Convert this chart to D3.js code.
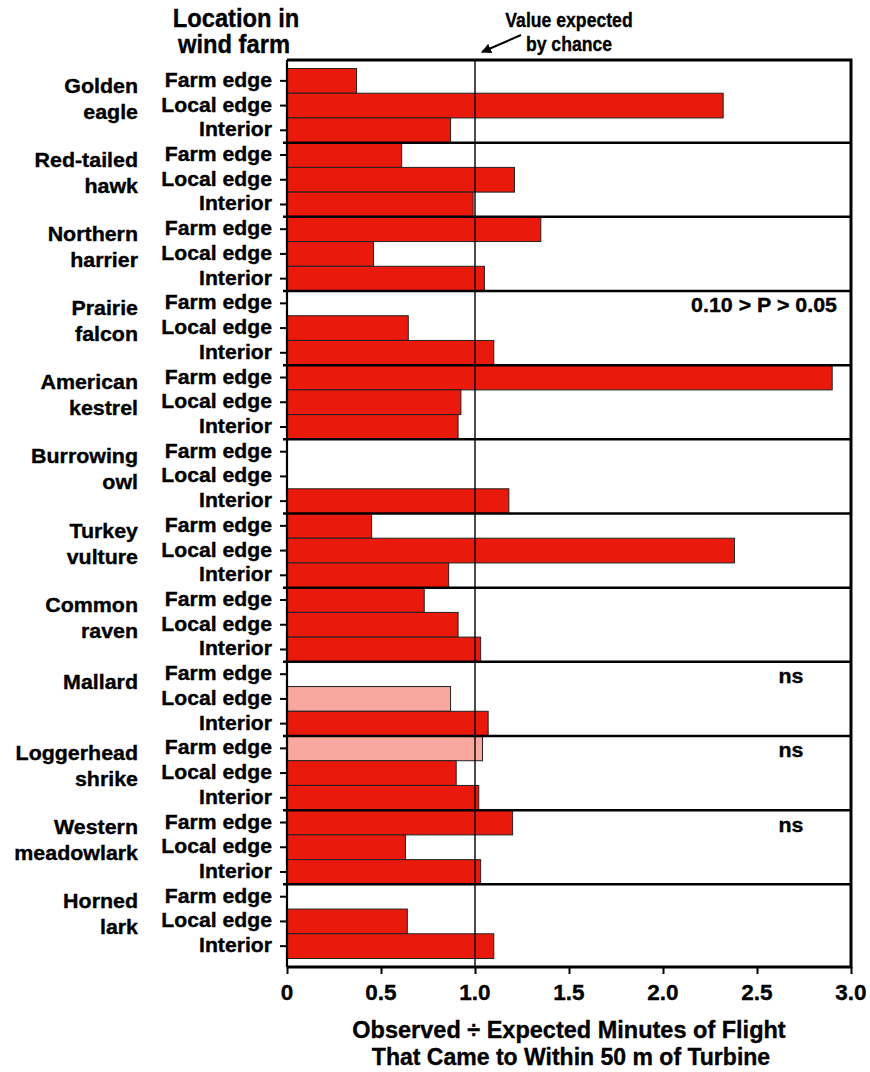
<!DOCTYPE html>
<html>
<head>
<meta charset="utf-8">
<script src="https://cdn.jsdelivr.net/npm/d3@7"></script>
<style>
  html, body { margin: 0; padding: 0; background: #fff; }
  svg { display: block; }
  text { font-family: "Liberation Sans", Arial, sans-serif; font-weight: bold; fill: #000; stroke: #000; stroke-width: 0.35px; }
</style>
</head>
<body>
<svg id="chart" width="870" height="1072"></svg>
<script>
// ---------------- data ----------------
const species = [
  "Golden eagle", "Red-tailed hawk", "Northern harrier", "Prairie falcon",
  "American kestrel", "Burrowing owl", "Turkey vulture", "Common raven",
  "Mallard", "Loggerhead shrike", "Western meadowlark", "Horned lark"
];
const speciesLines = [
  ["Golden", "eagle"], ["Red-tailed", "hawk"], ["Northern", "harrier"], ["Prairie", "falcon"],
  ["American", "kestrel"], ["Burrowing", "owl"], ["Turkey", "vulture"], ["Common", "raven"],
  ["Mallard"], ["Loggerhead", "shrike"], ["Western", "meadowlark"], ["Horned", "lark"]
];
const locations = ["Farm edge", "Local edge", "Interior"];
const farmEdge  = [0.37, 0.61, 1.35, null, 2.90, null, 0.45, 0.73, null, 1.04, 1.20, null];
const localEdge = [2.32, 1.21, 0.46, 0.645, 0.925, null, 2.38, 0.91, 0.87, 0.90, 0.63, 0.64];
const interior  = [0.87, 0.99, 1.05, 1.10, 0.91, 1.18, 0.86, 1.03, 1.07, 1.02, 1.03, 1.10];
// bars drawn in the pale colour (not significant)
const paleBars = [["Mallard", "Local edge"], ["Loggerhead shrike", "Farm edge"]];
const annotations = [
  { species: "Prairie falcon", location: "Farm edge", text: "0.10 > P > 0.05", align: "end" },
  { species: "Mallard", location: "Farm edge", text: "ns", align: "middle" },
  { species: "Loggerhead shrike", location: "Farm edge", text: "ns", align: "middle" },
  { species: "Western meadowlark", location: "Farm edge", text: "ns", align: "middle" }
];
const xTicks = [0, 0.5, 1.0, 1.5, 2.0, 2.5, 3.0];
const xTickLabels = ["0", "0.5", "1.0", "1.5", "2.0", "2.5", "3.0"];
const expectedValue = 1.0;
const xTitle = ["Observed \u00F7 Expected Minutes of Flight", "That Came to Within 50 m of Turbine"];
const yHeader = ["Location in", "wind farm"];
const refNote = ["Value expected", "by chance"];

// ---------------- build table ----------------
const seriesByLoc = { "Farm edge": farmEdge, "Local edge": localEdge, "Interior": interior };
const rows = [];
species.forEach((s, i) => {
  locations.forEach(loc => {
    rows.push({ key: s + "|" + loc, species: s, loc: loc, value: seriesByLoc[loc][i],
      pale: paleBars.some(p => p[0] === s && p[1] === loc) });
  });
});

// ---------------- layout ----------------
const svg = d3.select("#chart");
const frameTop = 60, frameBottom = 967, left = 287, right = 851;
const bandTop = 68.5, bandBottom = 958.5;
const RED = "#E9190B", PALE = "#F8A89F";

const x = d3.scaleLinear().domain([0, 3]).range([left, right]);
const y = d3.scaleBand().domain(rows.map(r => r.key)).range([bandTop, bandBottom]).padding(0);

function txt(g, str, tx, ty, size, sx, anchor) {
  return g.append("text")
    .attr("transform", `translate(${tx},${ty}) scale(${sx},1)`)
    .attr("text-anchor", anchor)
    .style("font-size", size + "px")
    .text(str);
}

// bars
svg.append("g").selectAll("rect")
  .data(rows.filter(r => r.value != null))
  .join("rect")
  .attr("x", x(0))
  .attr("y", d => y(d.key))
  .attr("width", d => x(d.value) - x(0))
  .attr("height", y.bandwidth())
  .attr("fill", d => d.pale ? PALE : RED)
  .attr("stroke", "#222")
  .attr("stroke-width", 1);

// group dividers
svg.append("g").selectAll("line")
  .data(species.slice(1))
  .join("line")
  .attr("x1", left - 4).attr("x2", right)
  .attr("y1", d => y(d + "|" + locations[0]))
  .attr("y2", d => y(d + "|" + locations[0]))
  .attr("stroke", "#000").attr("stroke-width", 2.5);

// reference line
svg.append("line")
  .attr("x1", x(expectedValue)).attr("x2", x(expectedValue))
  .attr("y1", frameTop).attr("y2", frameBottom)
  .attr("stroke", "#000").attr("stroke-width", 1.4);

// frame: top, right, bottom
svg.append("path")
  .attr("d", `M${left},${frameTop}H${right}V${frameBottom}H${left}`)
  .attr("fill", "none").attr("stroke", "#000").attr("stroke-width", 3);
// left axis line
svg.append("line")
  .attr("x1", left).attr("x2", left).attr("y1", frameTop).attr("y2", frameBottom)
  .attr("stroke", "#000").attr("stroke-width", 2.2);

// x axis ticks
const xAxis = d3.axisBottom(x).tickValues(xTicks).tickSize(7).tickFormat((d, i) => xTickLabels[i]);
const gx = svg.append("g").attr("transform", `translate(0,${frameBottom})`).call(xAxis);
gx.select(".domain").remove();
gx.selectAll(".tick line").attr("stroke", "#000").attr("stroke-width", 2);
gx.selectAll(".tick text").remove();
xTicks.forEach((v, i) => txt(svg, xTickLabels[i], x(v), 1000, 22.5, 1.0, "middle"));

// y ticks at rows
svg.append("g").selectAll("line")
  .data(rows)
  .join("line")
  .attr("x1", left - 7).attr("x2", left)
  .attr("y1", d => y(d.key) + y.bandwidth() / 2)
  .attr("y2", d => y(d.key) + y.bandwidth() / 2)
  .attr("stroke", "#000").attr("stroke-width", 2);

// row labels
rows.forEach(r => {
  txt(svg, r.loc, 272, y(r.key) + y.bandwidth() / 2 + 6, 20, 1.06, "end");
});

// species labels
species.forEach((s, i) => {
  const g0 = y(s + "|" + locations[0]);
  const lines = speciesLines[i];
  if (lines.length === 1) {
    txt(svg, lines[0], 138, g0 + 27, 20, 1.07, "end");
  } else {
    lines.forEach((l, j) => txt(svg, l, 138, g0 + 24 + 26 * j, 20, 1.07, "end"));
  }
});

// annotations
annotations.forEach(a => {
  const yy = y(a.species + "|" + a.location) + y.bandwidth() / 2 + 9;
  const xx = a.align === "end" ? 837 : 791;
  txt(svg, a.text, xx, yy, 20, 1.07, a.align);
});

// header
txt(svg, yHeader[0], 236, 27, 25, 0.95, "middle");
txt(svg, yHeader[1], 234, 53, 25, 0.95, "middle");

// reference note
txt(svg, refNote[0], 569, 27, 20.5, 0.86, "middle");
txt(svg, refNote[1], 569, 51, 20.5, 0.86, "middle");

// arrow
svg.append("defs").append("marker")
  .attr("id", "ah").attr("viewBox", "0 0 10 10").attr("refX", 9).attr("refY", 5)
  .attr("markerWidth", 5).attr("markerHeight", 5).attr("orient", "auto")
  .append("path").attr("d", "M0,0L10,5L0,10z").attr("fill", "#000");
svg.append("line")
  .attr("x1", 521).attr("y1", 35).attr("x2", x(expectedValue) + 7).attr("y2", 52)
  .attr("stroke", "#000").attr("stroke-width", 2).attr("marker-end", "url(#ah)");

// x title
txt(svg, xTitle[0], 569, 1038, 23.5, 1.0, "middle");
txt(svg, xTitle[1], 571, 1065, 23.5, 0.98, "middle");
</script>
</body>
</html>
